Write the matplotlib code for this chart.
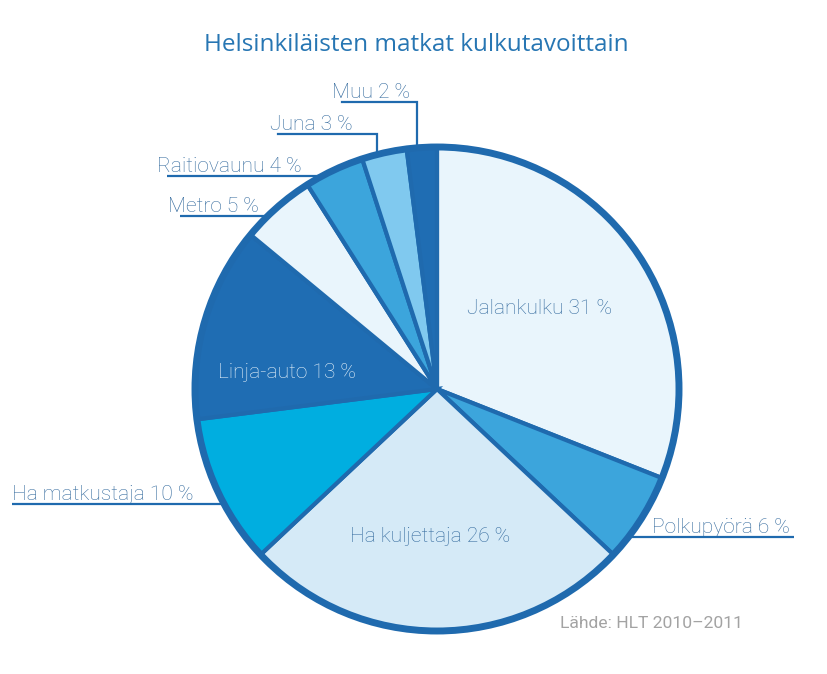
import numpy as np
import matplotlib
matplotlib.use("Agg")
import matplotlib.pyplot as plt
from matplotlib.patches import Circle

# Share of trips by mode (%), clockwise from the top
modes = ["Jalankulku", "Polkupyörä", "Ha kuljettaja", "Ha matkustaja",
         "Linja-auto", "Metro", "Raitiovaunu", "Juna", "Muu"]
shares = [31, 6, 26, 10, 13, 5, 4, 3, 2]
colors = ["#e9f5fc", "#3ca5dc", "#d5eaf7", "#00aee0",
          "#1f6db3", "#e9f5fc", "#3ca5dc", "#80c9ef", "#1f6db3"]

title = "Helsinkiläisten matkat kulkutavoittain"
source = "Lähde: HLT 2010–2011"

edge = "#1f6aae"
label_col = "#366c9f"

W, H = 828, 674
fig = plt.figure(figsize=(W / 100, H / 100), dpi=100)
ax = fig.add_axes([0, 0, 1, 1])

cx, cy, r = 437, 389, 242

# y is inverted, so counter-clockwise in data is clockwise on screen
wedges, _ = ax.pie(shares, colors=colors, startangle=-90, counterclock=True,
                   center=(cx, cy), radius=r, frame=True,
                   wedgeprops=dict(edgecolor=edge, linewidth=3.0))
ax.set_xlim(0, W)
ax.set_ylim(H, 0)  # pixel coordinates, y down
ax.set_aspect("equal")
ax.axis("off")
ax.add_patch(Circle((cx, cy), r, fill=False, edgecolor=edge, linewidth=5.0, zorder=5))

lab_font = dict(family=["Roboto", "DejaVu Sans"], fontsize=15.1, fontweight="light")

def txt(name, val):
    return f"{name} {val} %"

s = dict(zip(modes, shares))

# labels inside the pie
ax.text(540, 309, txt("Jalankulku", s["Jalankulku"]), color=label_col,
        ha="center", va="center", **lab_font)
ax.text(430, 537, txt("Ha kuljettaja", s["Ha kuljettaja"]), color=label_col,
        ha="center", va="center", **lab_font)
ax.text(287, 372, txt("Linja-auto", s["Linja-auto"]), color="#e6f2fa",
        ha="center", va="center", **lab_font)

def edge_x(y, side):
    return cx + side * np.sqrt(r ** 2 - (y - cy) ** 2)

def edge_y(x):
    return cy - np.sqrt(r ** 2 - (x - cx) ** 2)

lw = 1.6
# horizontal leaders ending at the pie rim
# (name, text left x, line start x, line y, side)
h_labels = [("Raitiovaunu", 157, 167, 176, -1),
            ("Metro", 168, 180, 216, -1),
            ("Ha matkustaja", 12, 12, 504, -1)]
for name, tx, lx, ly, side in h_labels:
    ax.text(tx, ly - 4, txt(name, s[name]), color=label_col, ha="left",
            va="baseline", **lab_font)
    ax.plot([lx, edge_x(ly, side)], [ly, ly], color=edge, lw=lw,
            solid_capstyle="butt", zorder=6)

# Polkupyörä on the right side
ly = 537
ax.text(652, ly - 4, txt("Polkupyörä", s["Polkupyörä"]), color=label_col,
        ha="left", va="baseline", **lab_font)
ax.plot([edge_x(ly, 1), 794], [ly, ly], color=edge, lw=lw,
        solid_capstyle="butt", zorder=6)

# elbow leaders coming down onto the top of the pie
# (name, text left x, line start x, line y, drop x)
v_labels = [("Muu", 332, 342, 102, 417),
            ("Juna", 270, 278, 134, 377)]
for name, tx, lx, ly, dx in v_labels:
    ax.text(tx, ly - 4, txt(name, s[name]), color=label_col, ha="left",
            va="baseline", **lab_font)
    ax.plot([lx, dx, dx], [ly, ly, edge_y(dx)], color=edge, lw=lw,
            solid_joinstyle="miter", zorder=6)

ax.text(416, 45, title, color="#2776b3", ha="center", va="center",
        family=["Open Sans", "DejaVu Sans"], fontsize=17.5)
ax.text(560, 623, source, color="#a3a3a3", ha="left", va="center",
        family=["Roboto", "DejaVu Sans"], fontsize=12.6)

fig.savefig("out.png", dpi=100)
